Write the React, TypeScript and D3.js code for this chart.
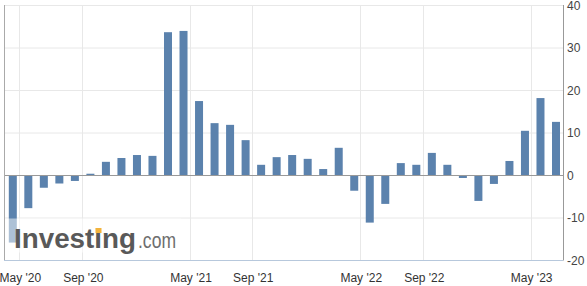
import React from "react";
import * as d3 from "d3";

const categories = [
  "Apr '20", "May '20", "Jun '20", "Jul '20", "Aug '20", "Sep '20", "Oct '20", "Nov '20", "Dec '20",
  "Jan-Feb '21", "Mar '21", "Apr '21", "May '21", "Jun '21", "Jul '21", "Aug '21", "Sep '21", "Oct '21", "Nov '21", "Dec '21",
  "Jan-Feb '22", "Mar '22", "Apr '22", "May '22", "Jun '22", "Jul '22", "Aug '22", "Sep '22", "Oct '22", "Nov '22", "Dec '22",
  "Jan-Feb '23", "Mar '23", "Apr '23", "May '23", "Jun '23",
];
const values = [
  -15.9, -7.8, -3.0, -2.0, -1.4, 0.3, 3.1, 4.0, 4.7, 4.5, 33.6, 33.9,
  17.4, 12.2, 11.8, 8.2, 2.4, 4.2, 4.7, 3.8, 1.4, 6.4, -3.7, -11.2,
  -6.8, 2.8, 2.4, 5.2, 2.4, -0.7, -6.1, -2.1, 3.3, 10.4, 18.1, 12.5,
];
const xTickLabels = ["May '20", "Sep '20", "May '21", "Sep '21", "May '22", "Sep '22", "May '23"];
const xTickPositions = [0.42, 4.48, 11.42, 15.43, 22.39, 26.45, 33.37];
const yTicks = [-20, -10, 0, 10, 20, 30, 40];

const W = 587;
const H = 286;
const left = 4;
const right = 563;
const top = 5;
const bottom = 260;
const font = "Arial, 'Liberation Sans', sans-serif";

export default function App() {
  const y = d3.scaleLinear().domain([-20, 40]).range([bottom, top]);
  const x = d3.scaleLinear().domain([0, categories.length - 1]).range([12.8, 556]);
  const barW = 8;

  return (
    <div style={{ position: "absolute", left: 0, top: 0 }}>
      <svg width={W} height={H} style={{ display: "block", background: "#fff" }}>
        {yTicks.map((t) => (
          <line key={"hg" + t} x1={left} x2={right} y1={y(t) + 0.5} y2={y(t) + 0.5} stroke="#e8e8e8" />
        ))}
        {xTickPositions.map((p, i) => (
          <line key={"vg" + i} x1={Math.round(x(p)) + 0.5} x2={Math.round(x(p)) + 0.5} y1={top} y2={bottom} stroke="#e8e8e8" />
        ))}
        {values.map((v, i) => {
          const y0 = y(0);
          const y1 = y(v);
          return (
            <rect
              key={categories[i]}
              x={x(i) - barW / 2}
              y={Math.min(y0, y1)}
              width={barW}
              height={Math.max(Math.abs(y1 - y0), 0.5)}
              fill="#5b82ad"
            />
          );
        })}
        <line x1={left} x2={right} y1={y(0) + 0.5} y2={y(0) + 0.5} stroke="#999" />
        <rect x={left + 1} y={y(-10) + 1} width={176} height={34} fill="#fff" opacity={0.5} />
        <text x={14} y={248} fontFamily={font} fontSize={27} fontWeight="bold" fill="#595959" textLength={122} lengthAdjust="spacingAndGlyphs">
          Investing
        </text>
        <text x={138} y={248} fontFamily={font} fontSize={22} fill="#6e6e6e" textLength={38} lengthAdjust="spacingAndGlyphs">
          .com
        </text>
        <rect x={95.5} y={228} width={6} height={5} fill="#f2b33d" />
        <line x1={left + 0.5} x2={left + 0.5} y1={top} y2={bottom} stroke="#aaa" />
        <line x1={right + 0.5} x2={right + 0.5} y1={top} y2={bottom + 0.5} stroke="#999" />
        <line x1={left} x2={right} y1={bottom + 0.5} y2={bottom + 0.5} stroke="#b7c8dc" />
        {yTicks.map((t) => (
          <text key={"yl" + t} x={567} y={y(t) + 4.5} fontFamily={font} fontSize={12} fill="#444">
            {t}
          </text>
        ))}
        {xTickPositions.map((p, i) => (
          <text key={"xl" + i} x={x(p) + 1} y={282} textAnchor="middle" fontFamily={font} fontSize={12} fill="#333">
            {xTickLabels[i]}
          </text>
        ))}
      </svg>
    </div>
  );
}
